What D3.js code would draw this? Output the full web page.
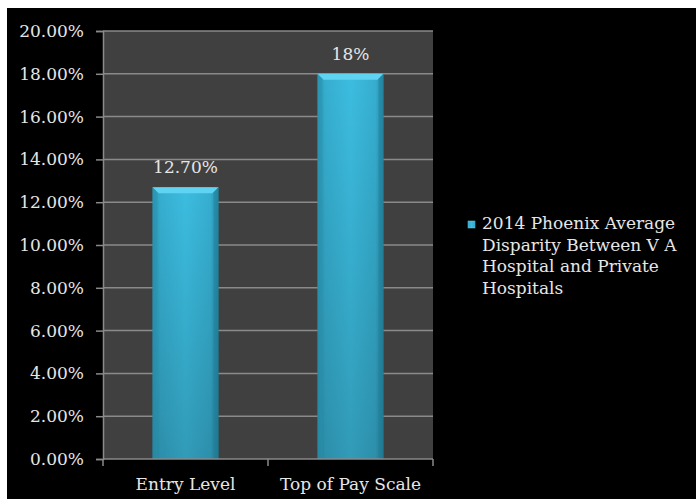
<!DOCTYPE html>
<html>
<head>
<meta charset="utf-8">
<script src="https://cdn.jsdelivr.net/npm/d3@7"></script>
<style>
  html, body { margin: 0; padding: 0; background: #ffffff; }
  svg { display: block; }
</style>
</head>
<body>
<div id="chart"></div>
<script>
const categories = ["Entry Level", "Top of Pay Scale"];
const values = [0.127, 0.18];
const valueLabels = ["12.70%", "18%"];
const yTicks = [0, 0.02, 0.04, 0.06, 0.08, 0.10, 0.12, 0.14, 0.16, 0.18, 0.20];
const legendLines = ["2014 Phoenix Average", "Disparity Between V A", "Hospital and Private", "Hospitals"];

const FONT = "'DejaVu Serif', serif";
const TEXT_COLOR = "#e6e6e6";

const width = 696, height = 499;
const margin = { top: 31, right: 263, bottom: 40, left: 103 };
const innerWidth = width - margin.left - margin.right;
const innerHeight = height - margin.top - margin.bottom;

const svg = d3.select("#chart").append("svg")
  .attr("width", width)
  .attr("height", height);

// black chart area, thin white border top/left
svg.append("rect").attr("x", 7).attr("y", 8)
  .attr("width", width - 7).attr("height", height - 8)
  .attr("fill", "#000000");

const defs = svg.append("defs");
const grad = defs.append("linearGradient").attr("id", "barGrad")
  .attr("x1", "0%").attr("x2", "100%").attr("y1", "0%").attr("y2", "0%");
grad.append("stop").attr("offset", "0%").attr("stop-color", "#2b95b3");
grad.append("stop").attr("offset", "12%").attr("stop-color", "#36aed0");
grad.append("stop").attr("offset", "50%").attr("stop-color", "#3cbde0");
grad.append("stop").attr("offset", "88%").attr("stop-color", "#36aed0");
grad.append("stop").attr("offset", "100%").attr("stop-color", "#2688a4");

const vGrad = defs.append("linearGradient").attr("id", "barShade")
  .attr("x1", "0%").attr("x2", "0%").attr("y1", "0%").attr("y2", "100%");
vGrad.append("stop").attr("offset", "0%").attr("stop-color", "#000").attr("stop-opacity", 0);
vGrad.append("stop").attr("offset", "100%").attr("stop-color", "#000").attr("stop-opacity", 0.18);

const g = svg.append("g")
  .attr("transform", `translate(${margin.left},${margin.top})`);

const x = d3.scaleBand()
  .domain(categories)
  .range([0, innerWidth])
  .paddingInner(0.6)
  .paddingOuter(0.3);

const y = d3.scaleLinear()
  .domain([0, 0.2])
  .range([innerHeight, 0]);

g.append("rect")
  .attr("width", innerWidth)
  .attr("height", innerHeight)
  .attr("fill", "#404040");

// gridlines
g.selectAll(".grid")
  .data(yTicks.slice(1))
  .enter().append("line")
  .attr("x1", 0).attr("x2", innerWidth)
  .attr("y1", d => y(d)).attr("y2", d => y(d))
  .attr("stroke", "#8a8a8a")
  .attr("stroke-width", 1.5);

// bars
const bars = g.selectAll(".bar")
  .data(values)
  .enter().append("g")
  .attr("class", "bar");

bars.append("rect")
  .attr("x", (d, i) => x(categories[i]))
  .attr("y", d => y(d))
  .attr("width", x.bandwidth())
  .attr("height", d => innerHeight - y(d))
  .attr("fill", "url(#barGrad)");

bars.append("rect")
  .attr("x", (d, i) => x(categories[i]))
  .attr("y", d => y(d))
  .attr("width", x.bandwidth())
  .attr("height", d => innerHeight - y(d))
  .attr("fill", "url(#barShade)");

// bevelled top and sides
bars.append("path")
  .attr("d", (d, i) => {
    const x0 = x(categories[i]), x1 = x0 + x.bandwidth(), y0 = y(d), b = 6;
    return `M${x0},${y0}L${x1},${y0}L${x1 - b},${y0 + b}L${x0 + b},${y0 + b}Z`;
  })
  .attr("fill", "#5fd3f2");

bars.append("path")
  .attr("d", (d, i) => {
    const x0 = x(categories[i]), y0 = y(d), b = 5;
    return `M${x0},${y0}L${x0 + b},${y0 + b}L${x0 + b},${innerHeight}L${x0},${innerHeight}Z`;
  })
  .attr("fill", "#2a93b0").attr("opacity", 0.5);

bars.append("path")
  .attr("d", (d, i) => {
    const x1 = x(categories[i]) + x.bandwidth(), y0 = y(d), b = 5;
    return `M${x1},${y0}L${x1 - b},${y0 + b}L${x1 - b},${innerHeight}L${x1},${innerHeight}Z`;
  })
  .attr("fill", "#1f7f99").attr("opacity", 0.5);

function styleText(sel) {
  sel.attr("font-family", FONT)
    .style("font-family", FONT)
    .attr("font-size", 17)
    .attr("fill", TEXT_COLOR);
}

// value labels
g.selectAll(".vlabel")
  .data(values)
  .enter().append("text")
  .attr("x", (d, i) => x(categories[i]) + x.bandwidth() / 2)
  .attr("y", d => y(d) - 14)
  .attr("text-anchor", "middle")
  .text((d, i) => valueLabels[i])
  .call(styleText);

// y axis
const yAxis = g.append("g")
  .call(d3.axisLeft(y).tickValues(yTicks).tickFormat(d3.format(".2%")).tickSize(7).tickPadding(12));
yAxis.attr("font-family", FONT);
yAxis.selectAll("text").call(styleText);
yAxis.selectAll("line").attr("stroke", "#8a8a8a").attr("stroke-width", 1.5);
yAxis.select(".domain").attr("stroke", "#8a8a8a").attr("stroke-width", 1.5);

// x axis
const xEdges = d3.scaleLinear().domain([0, categories.length]).range([0, innerWidth]);
const xAxis = g.append("g")
  .attr("transform", `translate(0,${innerHeight})`);
xAxis.append("line")
  .attr("x1", 0).attr("x2", innerWidth)
  .attr("stroke", "#8a8a8a").attr("stroke-width", 1.5);
xAxis.selectAll(".xtick")
  .data(d3.range(categories.length + 1))
  .enter().append("line")
  .attr("x1", d => xEdges(d)).attr("x2", d => xEdges(d))
  .attr("y1", 0).attr("y2", 7)
  .attr("stroke", "#8a8a8a").attr("stroke-width", 1.5);
xAxis.selectAll(".xlabel")
  .data(categories)
  .enter().append("text")
  .attr("x", d => x(d) + x.bandwidth() / 2)
  .attr("y", 31)
  .attr("text-anchor", "middle")
  .text(d => d)
  .call(styleText);

// legend
const legend = svg.append("g").attr("transform", "translate(468,221)");
legend.append("rect")
  .attr("width", 7).attr("height", 7)
  .attr("fill", "url(#barGrad)")
  .attr("stroke", "#5fd3f2").attr("stroke-width", 0.5);
legend.selectAll("text")
  .data(legendLines)
  .enter().append("text")
  .attr("x", 14)
  .attr("y", (d, i) => 8 + i * 21.7)
  .text(d => d)
  .call(styleText);
</script>
</body>
</html>
